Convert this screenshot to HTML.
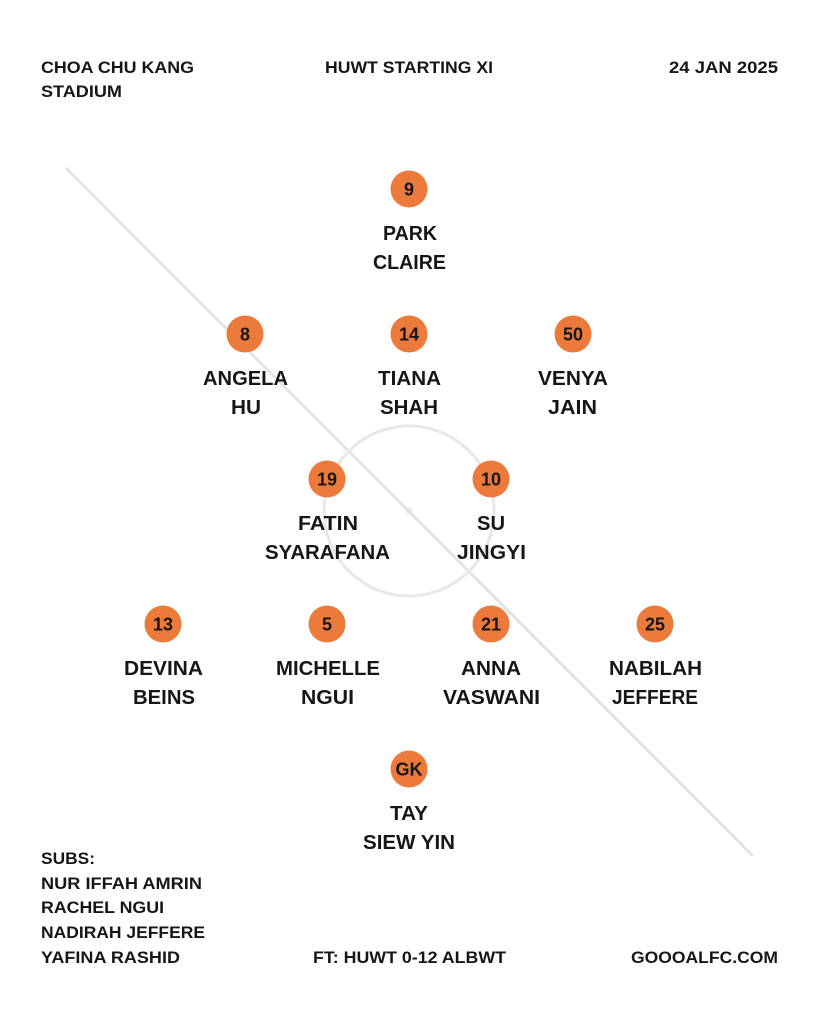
<!DOCTYPE html>
<html><head><meta charset="utf-8"><style>html,body{margin:0;padding:0;background:#fff}svg{display:block}</style></head><body>
<svg width="819" height="1024" viewBox="0 0 819 1024" xmlns="http://www.w3.org/2000/svg" font-family="Liberation Sans, sans-serif" font-weight="bold" fill="#161616">
<rect width="819" height="1024" fill="#fff"/>
<line x1="66" y1="168" x2="753" y2="856" stroke="#e4e4e4" stroke-width="3"/>
<circle cx="409" cy="511" r="85" fill="none" stroke="#e8e8e8" stroke-width="3"/>
<circle cx="409" cy="511" r="3" fill="#e4e4e4"/>
<g font-size="17">
<text x="41" y="73" textLength="153" lengthAdjust="spacingAndGlyphs">CHOA CHU KANG</text>
<text x="41" y="97" textLength="81" lengthAdjust="spacingAndGlyphs">STADIUM</text>
<text x="325" y="73" textLength="168" lengthAdjust="spacingAndGlyphs">HUWT STARTING XI</text>
<text x="669" y="73" textLength="109" lengthAdjust="spacingAndGlyphs">24 JAN 2025</text>
<text x="41" y="864" textLength="54" lengthAdjust="spacingAndGlyphs">SUBS:</text>
<text x="41" y="889" textLength="161" lengthAdjust="spacingAndGlyphs">NUR IFFAH AMRIN</text>
<text x="41" y="913" textLength="123" lengthAdjust="spacingAndGlyphs">RACHEL NGUI</text>
<text x="41" y="938" textLength="164" lengthAdjust="spacingAndGlyphs">NADIRAH JEFFERE</text>
<text x="41" y="963" textLength="139" lengthAdjust="spacingAndGlyphs">YAFINA RASHID</text>
<text x="313" y="963" textLength="193" lengthAdjust="spacingAndGlyphs">FT: HUWT 0-12 ALBWT</text>
<text x="631" y="963" textLength="147" lengthAdjust="spacingAndGlyphs">GOOOALFC.COM</text>
</g>
<g fill="#ec7a3a">
<circle cx="409" cy="189" r="18.5"/>
<circle cx="245" cy="334" r="18.5"/><circle cx="409" cy="334" r="18.5"/><circle cx="573" cy="334" r="18.5"/>
<circle cx="327" cy="479" r="18.5"/><circle cx="491" cy="479" r="18.5"/>
<circle cx="163" cy="624" r="18.5"/><circle cx="327" cy="624" r="18.5"/><circle cx="491" cy="624" r="18.5"/><circle cx="655" cy="624" r="18.5"/>
<circle cx="409" cy="769" r="18.5"/>
</g>
<g font-size="18" text-anchor="middle" fill="#161616">
<text x="409" y="195.5">9</text>
<text x="245" y="340.5">8</text><text x="409" y="340.5">14</text><text x="573" y="340.5">50</text>
<text x="327" y="485.5">19</text><text x="491" y="485.5">10</text>
<text x="163" y="630.5">13</text><text x="327" y="630.5">5</text><text x="491" y="630.5">21</text><text x="655" y="630.5">25</text>
<text x="409" y="775.5">GK</text>
</g>
<g font-size="20.5">
<text x="383" y="240" textLength="54" lengthAdjust="spacingAndGlyphs">PARK</text>
<text x="373" y="269" textLength="73" lengthAdjust="spacingAndGlyphs">CLAIRE</text>
<text x="203" y="385" textLength="85" lengthAdjust="spacingAndGlyphs">ANGELA</text>
<text x="231" y="414" textLength="30" lengthAdjust="spacingAndGlyphs">HU</text>
<text x="378" y="385" textLength="63" lengthAdjust="spacingAndGlyphs">TIANA</text>
<text x="380" y="414" textLength="58" lengthAdjust="spacingAndGlyphs">SHAH</text>
<text x="538" y="385" textLength="70" lengthAdjust="spacingAndGlyphs">VENYA</text>
<text x="548" y="414" textLength="49" lengthAdjust="spacingAndGlyphs">JAIN</text>
<text x="298" y="530" textLength="60" lengthAdjust="spacingAndGlyphs">FATIN</text>
<text x="265" y="559" textLength="125" lengthAdjust="spacingAndGlyphs">SYARAFANA</text>
<text x="477" y="530" textLength="28" lengthAdjust="spacingAndGlyphs">SU</text>
<text x="457" y="559" textLength="69" lengthAdjust="spacingAndGlyphs">JINGYI</text>
<text x="124" y="675" textLength="79" lengthAdjust="spacingAndGlyphs">DEVINA</text>
<text x="133" y="704" textLength="62" lengthAdjust="spacingAndGlyphs">BEINS</text>
<text x="276" y="675" textLength="104" lengthAdjust="spacingAndGlyphs">MICHELLE</text>
<text x="301" y="704" textLength="53" lengthAdjust="spacingAndGlyphs">NGUI</text>
<text x="461" y="675" textLength="60" lengthAdjust="spacingAndGlyphs">ANNA</text>
<text x="443" y="704" textLength="97" lengthAdjust="spacingAndGlyphs">VASWANI</text>
<text x="609" y="675" textLength="93" lengthAdjust="spacingAndGlyphs">NABILAH</text>
<text x="612" y="704" textLength="86" lengthAdjust="spacingAndGlyphs">JEFFERE</text>
<text x="390" y="820" textLength="38" lengthAdjust="spacingAndGlyphs">TAY</text>
<text x="363" y="849" textLength="92" lengthAdjust="spacingAndGlyphs">SIEW YIN</text>
</g>
</svg>
</body></html>
